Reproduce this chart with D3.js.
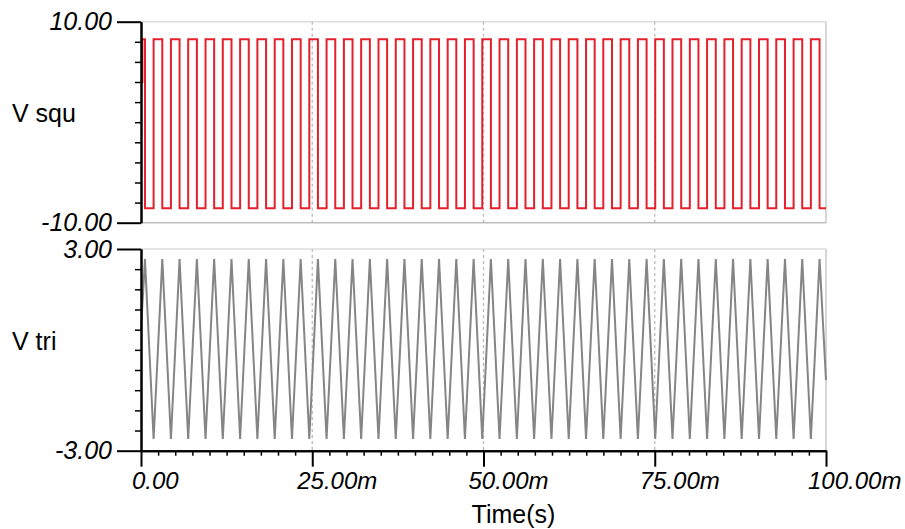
<!DOCTYPE html>
<html><head><meta charset="utf-8">
<script src="https://cdn.jsdelivr.net/npm/d3@7"></script>
<style>
html,body{margin:0;padding:0;background:#fff;}
svg text{font-family:"Liberation Sans",Arial,sans-serif;fill:#000;}
</style></head>
<body><svg id="c" width="905" height="529"></svg>
<script>
// ---- data ----
const xTickValues = [0, 25, 50, 75, 100];            // ms
const xTickLabels = ["0.00", "25.00m", "50.00m", "75.00m", "100.00m"];
const xMinorStep = 2.5;
const xAxisTitle = "Time(s)";

const squName = "V squ";
const squTickLabels = ["10.00", "-10.00"];
const squDomain = [-10, 10];
const squStart = 4.0;
const squHigh = 8.25;
const squLow = -8.55;

const triName = "V tri";
const triTickLabels = ["3.00", "-3.00"];
const triDomain = [-3, 3];
const triStart = 0.6;
const triEnd = -0.9;
const triPeak = 2.70;
const triTrough = -2.65;

// times (ms) of triangle peaks (square switches low) and troughs (square switches high)
const peakTimes = [0.58, 3.11, 5.63, 8.16, 10.68, 13.21, 15.73, 18.26, 20.78, 23.31,
  25.83, 28.36, 30.88, 33.41, 35.93, 38.46, 40.98, 43.51, 46.03, 48.56,
  51.08, 53.61, 56.13, 58.66, 61.18, 63.71, 66.23, 68.76, 71.28, 73.81,
  76.33, 78.86, 81.38, 83.91, 86.43, 88.96, 91.48, 94.01, 96.53, 99.06];
const troughTimes = [1.84, 4.37, 6.89, 9.42, 11.94, 14.47, 16.99, 19.52, 22.04, 24.57,
  27.09, 29.62, 32.14, 34.67, 37.19, 39.72, 42.24, 44.77, 47.29, 49.82,
  52.34, 54.87, 57.39, 59.92, 62.44, 64.97, 67.49, 70.02, 72.54, 75.07,
  77.59, 80.12, 82.64, 85.17, 87.69, 90.22, 92.74, 95.27, 97.79];

// ---- layout ----
const svg = d3.select("#c");
const FS = 25, FSX = 24;
const X0 = 141, X1 = 826;
const x = d3.scaleLinear().domain([0, 100]).range([X0, X1]);
const yS = d3.scaleLinear().domain(squDomain).range([222.7, 21.7]);
const yT = d3.scaleLinear().domain(triDomain).range([450.7, 249]);

const events = peakTimes.map(t => ({t, type: "p"}))
  .concat(troughTimes.map(t => ({t, type: "t"})))
  .sort((a, b) => a.t - b.t);

const triPts = [[0, triStart]].concat(events.map(e => [e.t, e.type === "p" ? triPeak : triTrough]), [[100, triEnd]]);
const squPts = [[0, squStart], [0.2, squHigh]].concat(events.map(e => [e.t, e.type === "p" ? squLow : squHigh]));
squPts.push([100, squPts[squPts.length - 1][1]]);

function panel(y, pts, color, curve, tickLabels, name, isBottom) {
  const [yBot, yTop] = y.range();
  const g = svg.append("g");
  // frame
  g.append("line").attr("x1", X0).attr("x2", X1).attr("y1", yTop).attr("y2", yTop)
    .attr("stroke", "#dcdcdc").attr("stroke-width", 1.5);
  g.append("line").attr("x1", X1).attr("x2", X1).attr("y1", yTop).attr("y2", yBot)
    .attr("stroke", "#c8c8c8").attr("stroke-width", 1.5);
  if (!isBottom) {
    g.append("line").attr("x1", X0).attr("x2", X1).attr("y1", yBot).attr("y2", yBot)
      .attr("stroke", "#bdbdbd").attr("stroke-width", 1.5);
  }
  // grid
  g.selectAll("line.grid").data(xTickValues.slice(1, -1)).enter().append("line")
    .attr("x1", d => x(d)).attr("x2", d => x(d)).attr("y1", yTop).attr("y2", yBot)
    .attr("stroke", "#bbbbbb").attr("stroke-width", 1.3).attr("stroke-dasharray", "3,3");
  // data
  g.append("path").datum(pts)
    .attr("d", d3.line().x(d => x(d[0])).y(d => y(d[1])).curve(curve))
    .attr("fill", "none").attr("stroke", color).attr("stroke-width", 2)
    .attr("stroke-linejoin", "miter");
  // y axis
  const [d0, d1] = y.domain();
  const minor = d3.range(1, 10).map(i => d0 + (d1 - d0) * i / 10);
  const axMinor = g.append("g").attr("transform", `translate(${X0},0)`)
    .call(d3.axisLeft(y).tickValues(minor).tickSize(6).tickSizeOuter(0).tickFormat(""));
  const axMajor = g.append("g").attr("transform", `translate(${X0},0)`)
    .call(d3.axisLeft(y).tickValues([d1, d0]).tickSize(24).tickSizeOuter(0).tickFormat(""));
  [axMinor, axMajor].forEach(a => {
    a.selectAll("path").attr("stroke", "#000").attr("stroke-width", 2);
    a.selectAll("line").attr("stroke", "#000").attr("stroke-width", 1.5);
  });
  axMajor.selectAll("line").attr("stroke-width", 2);
  g.selectAll("text.yl").data([d1, d0]).enter().append("text")
    .attr("x", 112).attr("y", d => y(d)).attr("dy", "0.35em")
    .attr("text-anchor", "end").attr("font-style", "italic").attr("font-size", FS)
    .text((d, i) => tickLabels[i]);
  g.append("text").attr("x", 12).attr("y", (yTop + yBot) / 2)
    .attr("font-size", FS).text(name);
}

panel(yS, squPts, "#e3202b", d3.curveStepAfter, squTickLabels, squName, false);
panel(yT, triPts, "#858585", d3.curveLinear, triTickLabels, triName, true);

// x axis
const minorX = d3.range(0, 100.01, xMinorStep).filter(v => xTickValues.indexOf(v) < 0);
const xa1 = svg.append("g").attr("transform", `translate(0,${yT.range()[0]})`)
  .call(d3.axisBottom(x).tickValues(minorX).tickSize(5).tickSizeOuter(0).tickFormat(""));
const xa2 = svg.append("g").attr("transform", `translate(0,${yT.range()[0]})`)
  .call(d3.axisBottom(x).tickValues(xTickValues).tickSize(16).tickSizeOuter(0).tickFormat(""));
[xa1, xa2].forEach(a => {
  a.selectAll("path").attr("stroke", "#000").attr("stroke-width", 2);
  a.selectAll("line").attr("stroke", "#000").attr("stroke-width", 1.5);
});
xa2.selectAll("line").attr("stroke-width", 2);
svg.selectAll("text.xl").data(xTickValues).enter().append("text")
  .attr("x", (d, i) => x(d) + (i === 0 ? -9 : (i === 4 ? -18 : -15))).attr("y", 489)
  .attr("font-style", "italic").attr("font-size", FSX)
  .text((d, i) => xTickLabels[i]);
svg.append("text").attr("x", x(50) + 30).attr("y", 523).attr("text-anchor", "middle")
  .attr("font-size", FS).text(xAxisTitle);
</script></body></html>
